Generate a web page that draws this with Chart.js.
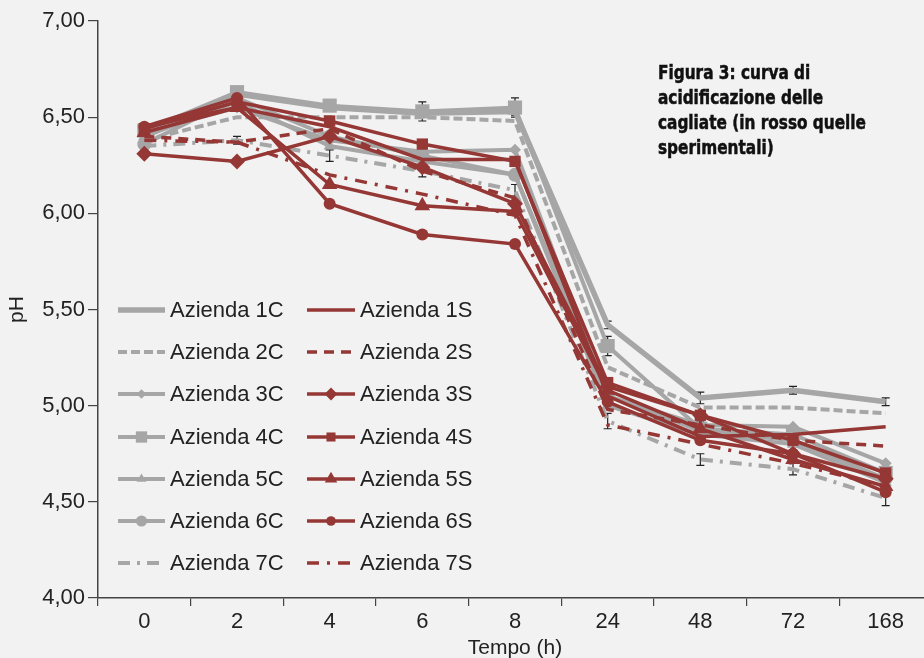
<!DOCTYPE html>
<html>
<head>
<meta charset="utf-8">
<script src="https://cdn.jsdelivr.net/npm/chart.js@4.4.0/dist/chart.umd.min.js"></script>
<style>
  html, body { margin: 0; padding: 0; background: #f2f2f2; overflow: hidden; width: 924px; height: 658px; }
  #wrap { position: absolute; left: 0; top: 0; width: 942px; height: 670px; }
</style>
</head>
<body>
<div id="wrap"><canvas id="c" width="942" height="670"></canvas></div>
<script>
// tempo (h)
const hours = ['0', '2', '4', '6', '8', '24', '48', '72', '168'];

// aziende di controllo (grigio)
const az1C = [6.40, 6.62, 6.55, 6.52, 6.53, 5.42, 5.04, 5.08, 5.02];
const az2C = [6.38, 6.50, 6.50, 6.50, 6.48, 5.20, 4.99, 4.99, 4.96];
const az3C = [6.42, 6.55, 6.38, 6.32, 6.33, 5.05, 4.90, 4.89, 4.70];
const az4C = [6.43, 6.63, 6.56, 6.53, 6.55, 5.31, 4.88, 4.85, 4.65];
const az5C = [6.40, 6.58, 6.35, 6.27, 6.20, 5.00, 4.85, 4.80, 4.60];
const az6C = [6.36, 6.60, 6.40, 6.30, 6.20, 5.05, 4.87, 4.82, 4.62];
const az7C = [6.35, 6.38, 6.30, 6.22, 6.12, 4.92, 4.72, 4.67, 4.52];

// aziende sperimentali (rosso)
const az1S = [6.45, 6.55, 6.45, 6.28, 6.28, 5.05, 4.84, 4.85, 4.89];
const az2S = [6.40, 6.37, 6.44, 6.22, 6.08, 4.98, 4.90, 4.82, 4.79];
const az3S = [6.31, 6.27, 6.40, 6.24, 6.05, 5.10, 4.95, 4.75, 4.62];
const az4S = [6.44, 6.58, 6.48, 6.36, 6.27, 5.12, 4.95, 4.82, 4.65];
const az5S = [6.42, 6.55, 6.15, 6.04, 6.01, 5.08, 4.88, 4.72, 4.58];
const az6S = [6.45, 6.60, 6.05, 5.89, 5.84, 5.02, 4.82, 4.75, 4.55];
const az7S = [6.38, 6.37, 6.20, 6.10, 5.99, 4.90, 4.80, 4.70, 4.58];

// deviazioni standard visibili (barre nere)
const err1C = [0.02, 0.03, 0.02, 0.02, 0.02, 0.02, 0.03, 0.02, 0.02];
const err4C = [0.02, 0.02, 0.03, 0.05, 0.05, 0.05, 0.04, 0.03, 0.05];
const err7C = [0.02, 0.02, 0.03, 0.03, 0.03, 0.04, 0.03, 0.03, 0.04];

const noteLines = ['Figura 3: curva di', 'acidificazione delle', 'cagliate (in rosso quelle', 'sperimentali)'];

const GREY = '#a6a6a6';
const RED = '#953735';

function serie(label, data, color, width, dash, style, radius, order, err) {
  return {
    label, data, err,
    borderColor: color, backgroundColor: color,
    borderWidth: width, borderDash: dash,
    pointStyle: style || 'circle', pointRadius: style ? radius : 0,
    pointBorderWidth: 0, pointBackgroundColor: color,
    tension: 0, order
  };
}

const datasets = [
  serie('Azienda 1C', az1C, GREY, 5.5, [], false, 0, 2, err1C),
  serie('Azienda 2C', az2C, GREY, 4, [9, 4], false, 0, 2),
  serie('Azienda 3C', az3C, GREY, 4, [], 'rectRot', 6, 2),
  serie('Azienda 4C', az4C, GREY, 4, [], 'rect', 10, 2, err4C),
  serie('Azienda 5C', az5C, GREY, 4, [], 'triangle', 7, 2),
  serie('Azienda 6C', az6C, GREY, 4, [], 'circle', 7, 2),
  serie('Azienda 7C', az7C, GREY, 4, [12, 7, 3, 7], false, 0, 2, err7C),
  serie('Azienda 1S', az1S, RED, 3.5, [], false, 0, 1),
  serie('Azienda 2S', az2S, RED, 3.5, [10, 7], false, 0, 1),
  serie('Azienda 3S', az3S, RED, 3.5, [], 'rectRot', 8, 1),
  serie('Azienda 4S', az4S, RED, 3.5, [], 'rect', 8, 1),
  serie('Azienda 5S', az5S, RED, 3.5, [], 'triangle', 9, 1),
  serie('Azienda 6S', az6S, RED, 3.5, [], 'circle', 6, 1),
  serie('Azienda 7S', az7S, RED, 3.5, [12, 8, 3, 8], false, 0, 1)
];

// barre di errore nere, sotto le linee
const barreErrore = {
  id: 'barreErrore',
  beforeDatasetsDraw(chart) {
    const ctx = chart.ctx;
    const y = chart.scales.y;
    ctx.save();
    ctx.strokeStyle = '#222';
    ctx.lineWidth = 1.2;
    chart.data.datasets.forEach((d, i) => {
      if (!d.err) return;
      chart.getDatasetMeta(i).data.forEach((pt, j) => {
        const top = y.getPixelForValue(d.data[j] + d.err[j]);
        const bot = y.getPixelForValue(d.data[j] - d.err[j]);
        ctx.beginPath();
        ctx.moveTo(pt.x, top); ctx.lineTo(pt.x, bot);
        ctx.moveTo(pt.x - 4, top); ctx.lineTo(pt.x + 4, top);
        ctx.moveTo(pt.x - 4, bot); ctx.lineTo(pt.x + 4, bot);
        ctx.stroke();
      });
    });
    ctx.restore();
  }
};

// legenda a due colonne dentro l'area del grafico
const legendaInterna = {
  id: 'legendaInterna',
  afterDatasetsDraw(chart) {
    const ctx = chart.ctx;
    const rows = [310, 352, 394, 437, 479, 521, 563];
    const cols = [{ x0: 118, x1: 165, tx: 170 }, { x0: 307, x1: 355, tx: 360 }];
    chart.data.datasets.forEach((d, i) => {
      const col = cols[i < 7 ? 0 : 1];
      const y = rows[i % 7];
      ctx.save();
      ctx.strokeStyle = d.borderColor;
      ctx.lineWidth = d.borderWidth;
      ctx.setLineDash(d.borderDash);
      ctx.beginPath();
      ctx.moveTo(col.x0, y);
      ctx.lineTo(col.x1, y);
      ctx.stroke();
      ctx.setLineDash([]);
      if (d.pointRadius > 0) {
        ctx.fillStyle = d.borderColor;
        Chart.helpers.drawPoint(ctx, { pointStyle: d.pointStyle, rotation: 0, radius: d.pointRadius * 0.8, borderWidth: 0 }, (col.x0 + col.x1) / 2, y);
      }
      ctx.fillStyle = '#222';
      ctx.font = '22px "Liberation Sans", Arial, sans-serif';
      ctx.textBaseline = 'middle';
      ctx.fillText(d.label, col.tx, y + 1);
      ctx.restore();
    });
  }
};

// nota in alto a destra
const nota = {
  id: 'nota',
  afterDraw(chart) {
    const ctx = chart.ctx;
    ctx.save();
    ctx.font = 'bold 20px "Liberation Sans Narrow", "DejaVu Sans Condensed", Arial, sans-serif';
    const widest = Math.max(...noteLines.map(t => ctx.measureText(t).width));
    const s = 208 / widest;
    ctx.translate(658, 0);
    ctx.scale(s, 1);
    ctx.fillStyle = '#111';
    ctx.strokeStyle = '#111';
    ctx.lineWidth = 0.5;
    ctx.textBaseline = 'alphabetic';
    noteLines.forEach((t, i) => {
      ctx.fillText(t, 0, 79 + i * 25);
      ctx.strokeText(t, 0, 79 + i * 25);
    });
    ctx.restore();
  }
};

const tickFont = { size: 22, family: '"Liberation Sans", Arial, sans-serif' };

new Chart(document.getElementById('c'), {
  type: 'line',
  data: { labels: hours, datasets },
  options: {
    responsive: false,
    animation: false,
    layout: { padding: { top: 21, right: 0, left: 0, bottom: 0 } },
    plugins: { legend: { display: false }, tooltip: { enabled: false } },
    scales: {
      x: {
        type: 'category',
        offset: true,
        afterFit(scale) { scale.height = 72; },
        grid: { drawOnChartArea: false, offset: true, tickLength: 8, color: '#444', lineWidth: 1.2 },
        border: { color: '#444', width: 1.5 },
        ticks: { color: '#222', font: tickFont, padding: 3, maxRotation: 0 },
        title: { display: true, text: 'Tempo (h)', color: '#222', font: { size: 21, family: '"Liberation Sans", Arial, sans-serif' }, padding: { top: 0, bottom: 9 } }
      },
      y: {
        min: 4, max: 7,
        afterFit(scale) { scale.width = 98; },
        afterBuildTicks(scale) { scale.ticks = [4, 4.5, 5, 5.5, 6, 6.5, 7].map(v => ({ value: v })); },
        grid: { drawOnChartArea: false, tickLength: 10, color: '#444', lineWidth: 1.2 },
        border: { color: '#444', width: 1.5 },
        ticks: { color: '#222', font: tickFont, padding: 3,
          callback: v => Number(v).toFixed(2).replace('.', ',') },
        title: { display: true, text: 'pH', color: '#222', font: { size: 21, family: '"Liberation Sans", Arial, sans-serif' }, padding: { top: 5, bottom: 0 } }
      }
    }
  },
  plugins: [barreErrore, legendaInterna, nota]
});
</script>
</body>
</html>
